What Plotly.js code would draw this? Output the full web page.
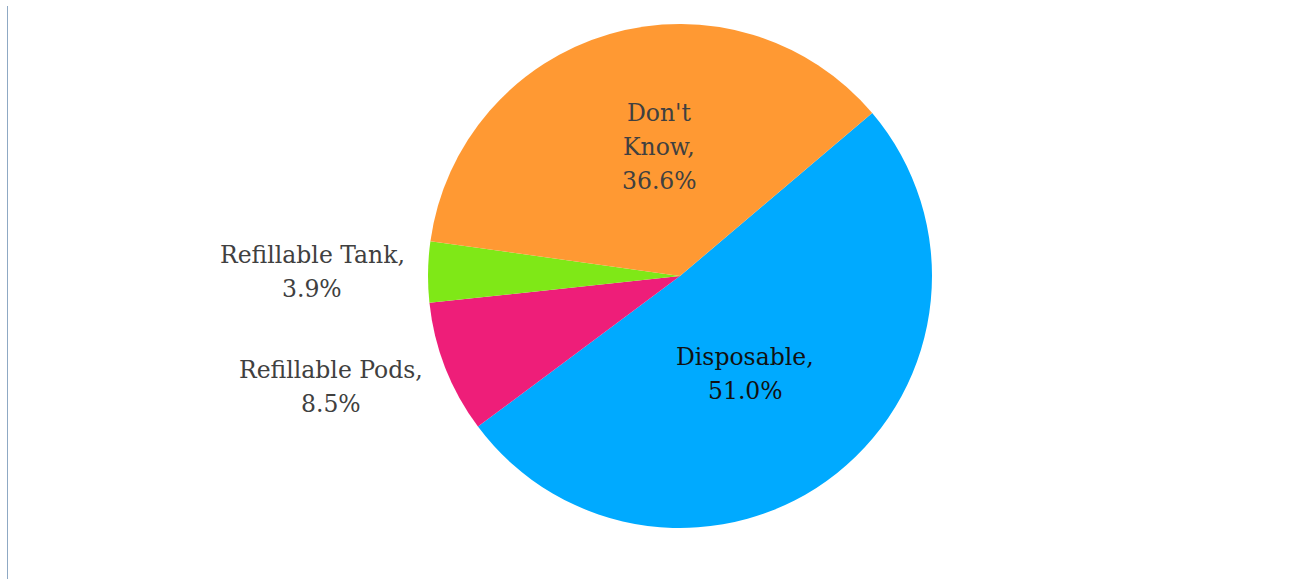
<!DOCTYPE html>
<html><head><meta charset="utf-8">
<script src="https://cdn.plot.ly/plotly-3.0.1.min.js"></script>
<style>html,body{margin:0;padding:0;background:#fff;}#chart{width:1315px;height:579px;}</style>
</head><body><div id="chart"></div>
<script>
const categories = ["Disposable", "Refillable Pods", "Refillable Tank", "Don't Know"];
const labelLines = [["Disposable,"], ["Refillable Pods,"], ["Refillable Tank,"], ["Don't", "Know,"]];
const values = [51.0, 8.5, 3.9, 36.6];
const colors = ["#00AAFF", "#EE1E79", "#7FE817", "#FF9933"];
const textColors = ["#111111", "#404040", "#404040", "#404040"];

// label block centres (pixels) and line pitch
const labelPos = [{x: 745, y: 374}, {x: 331, y: 387}, {x: 312, y: 272}, {x: 659, y: 147}];
const LINE = 34;
const W = 1315, H = 579, MT = 24, MB = 51, PH = H - MT - MB;
const FONT = "DejaVu Serif";
const FS = 23.5;

const annotations = [];
categories.forEach((c, i) => {
  const lines = labelLines[i].concat([values[i].toFixed(1) + "%"]);
  const n = lines.length;
  lines.forEach((ln, j) => {
    const py = labelPos[i].y + (j - (n - 1) / 2) * LINE;
    annotations.push({
      xref: "paper", yref: "paper",
      x: labelPos[i].x / W, y: 1 - (py - MT) / PH,
      xanchor: "center", yanchor: "middle",
      text: ln, showarrow: false, align: "center",
      font: {family: FONT, size: FS, color: textColors[i]}
    });
  });
});

const trace = {
  type: "pie",
  labels: categories,
  values: values,
  sort: false,
  direction: "clockwise",
  rotation: 49.7,
  marker: {colors: colors, line: {width: 0}},
  textinfo: "none",
  hoverinfo: "label+percent",
  domain: {x: [(680 - 260) / W, (680 + 260) / W], y: [0, 1]}
};

const layout = {
  width: W, height: H,
  margin: {l: 0, r: 0, t: MT, b: MB},
  showlegend: false,
  paper_bgcolor: "#ffffff",
  annotations: annotations,
  shapes: [{type: "line", xref: "paper", yref: "paper", x0: 7.5 / W, x1: 7.5 / W,
    y0: -MB / PH, y1: 1 + (MT - 6) / PH,
    line: {color: "#8fa9c4", width: 1}}]
};
Plotly.newPlot("chart", [trace], layout, {displayModeBar: false});
</script></body></html>
